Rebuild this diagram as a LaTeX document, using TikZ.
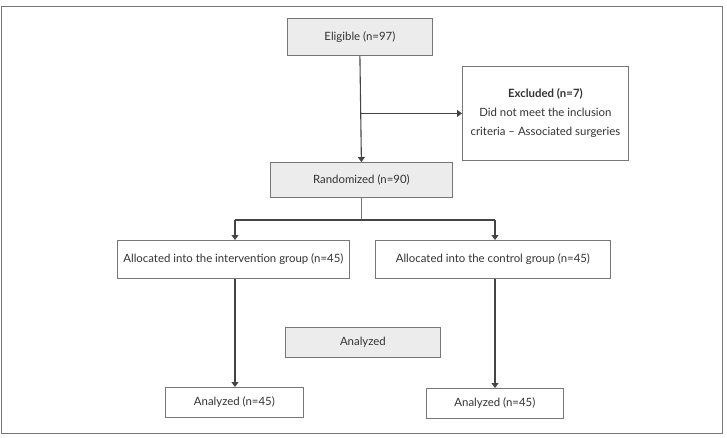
\documentclass[tikz,border=0pt]{standalone}
\usepackage{fontspec}
\setmainfont{Lato}
\usetikzlibrary{arrows.meta}
\definecolor{boxgray}{HTML}{ECECEC}
\definecolor{linegray}{HTML}{444444}
\definecolor{framegray}{HTML}{777777}
\definecolor{txtgray}{HTML}{333333}
\begin{document}
\begin{tikzpicture}[x=1pt,y=-1pt,
  box/.style={draw=framegray,line width=0.8pt,minimum height=#1,inner sep=0pt,font=\fontsize{11.4}{19}\selectfont,text=txtgray,align=center,anchor=north west},
  gbox/.style={box=#1,fill=boxgray},
  wbox/.style={box=#1,fill=white},
  conn/.style={draw=linegray,line width=1.1pt},
  thinconn/.style={draw=framegray,line width=0.8pt},
  arr/.style={conn,-{Triangle[length=5pt,width=7pt]}}]
\useasboundingbox (0,0) rectangle (727,437);
\draw[framegray,line width=1pt] (1,6) rectangle (722,433);
\node[gbox=37pt,minimum width=145pt] (elig) at (287,18) {Eligible (n=97)};
\node[wbox=94pt,minimum width=166pt] (excl) at (462,66) {\textbf{Excluded (n=7)}\\Did not meet the inclusion\\criteria – Associated surgeries};
\node[gbox=35pt,minimum width=182pt] (rand) at (270,162) {Randomized (n=90)};
\node[wbox=38pt,minimum width=232pt] (alli) at (117,240) {Allocated into the intervention group (n=45)};
\node[wbox=38pt,minimum width=235pt] (allc) at (375,240) {Allocated into the control group (n=45)};
\node[gbox=30pt,minimum width=155pt] (anl) at (285,327) {Analyzed};
\node[wbox=30pt,minimum width=138pt] (ani) at (165,387) {Analyzed (n=45)};
\node[wbox=30pt,minimum width=137pt] (anc) at (426,388) {Analyzed (n=45)};
\coordinate (br) at (elig.south |- excl.west);
\coordinate (split) at (rand.south |- 0,220);
\coordinate (li) at (235,220);
\coordinate (lc) at (495,220);
\draw[arr] (elig.south) -- (rand.north);
\draw[arr] (br) -- (excl.west);
\draw[thinconn] (rand.south) -- (split);
\draw[conn] (li) -- (lc);
\draw[arr] (li) -- (li |- alli.north);
\draw[arr] (lc) -- (lc |- allc.north);
\draw[arr] (li |- alli.south) -- (li |- ani.north);
\draw[arr] (lc |- allc.south) -- (lc |- anc.north);
\end{tikzpicture}
\end{document}
